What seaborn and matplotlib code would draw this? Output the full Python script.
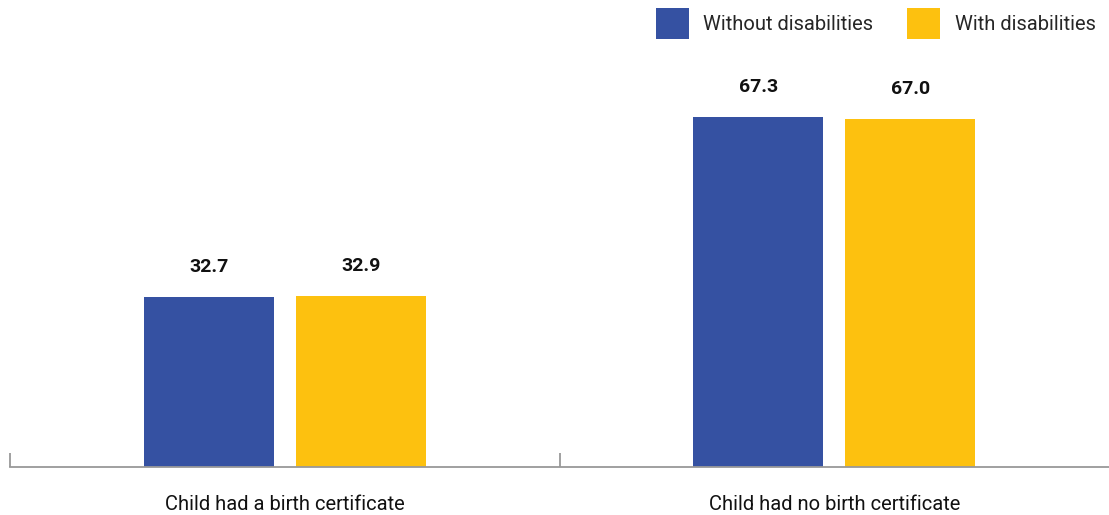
import matplotlib
matplotlib.use("Agg")
import matplotlib.pyplot as plt
import seaborn as sns
import pandas as pd
from matplotlib.patches import Patch
from matplotlib.ticker import FixedLocator

categories = ["Child had a birth certificate", "Child had no birth certificate"]
series = ["Without disabilities", "With disabilities"]
without_vals = [32.7, 67.3]
with_vals = [32.9, 67.0]
colors = ["#3551A2", "#FDC10F"]

df = pd.DataFrame({
    "category": categories * 2,
    "group": [series[0]] * 2 + [series[1]] * 2,
    "value": without_vals + with_vals,
})

sns.set_theme(style="white")
plt.rcParams["font.family"] = ["Roboto", "DejaVu Sans"]

fig = plt.figure(figsize=(11.09, 5.15), dpi=100)
ax = fig.add_axes([10 / 1109, 48 / 515, 1 - 10 / 1109, 467 / 515])

sns.barplot(data=df, x="category", y="value", hue="group", order=categories,
            hue_order=series, palette=colors, width=0.553, gap=0.145,
            saturation=1, legend=False, linewidth=0, ax=ax)

for cont in ax.containers:
    ax.bar_label(cont, fmt="%.1f", padding=15, fontsize=14, fontweight="bold",
                 color="#111111")

ax.set_ylim(0, 89.8)
ax.set_xlim(-0.5, 1.5)
ax.set_xlabel("")
ax.set_ylabel("")
ax.set_yticks([])
for s in ["left", "right", "top"]:
    ax.spines[s].set_visible(False)
ax.spines["bottom"].set_color("#999999")
ax.spines["bottom"].set_linewidth(1.3)
ax.tick_params(axis="x", which="major", length=0, labelsize=14.5, pad=20,
               labelcolor="#111111")
ax.xaxis.set_minor_locator(FixedLocator([-0.5, 0.5]))
ax.tick_params(axis="x", which="minor", bottom=True, direction="in", length=10,
               width=1.3, color="#999999")

handles = [Patch(facecolor=c, edgecolor="none") for c in colors]
fig.legend(handles, series, loc="upper right", bbox_to_anchor=(0.995, 1.0),
           ncol=2, frameon=False, fontsize=14.5, handlelength=1.65,
           handleheight=2.0, handletextpad=0.7, columnspacing=1.7,
           borderaxespad=0.2, borderpad=0.2)

fig.savefig("out.png", dpi=100)
